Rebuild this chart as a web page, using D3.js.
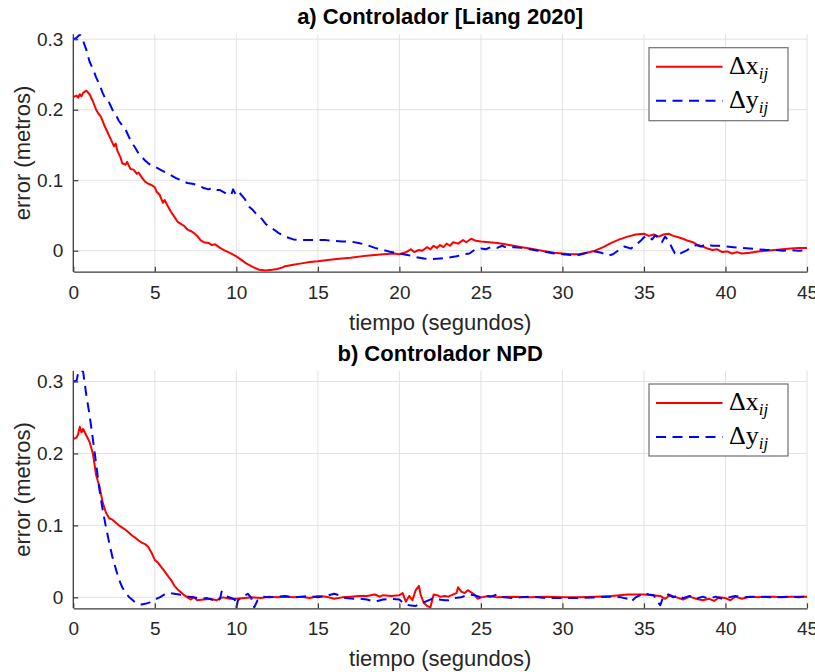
<!DOCTYPE html>
<html>
<head>
<meta charset="utf-8">
<script src="https://cdn.jsdelivr.net/npm/d3@7"></script>
<style>
  html, body { margin: 0; padding: 0; background: #ffffff; }
  svg { display: block; }
  text { font-family: "Liberation Sans", Arial, sans-serif; }
</style>
</head>
<body>
<svg id="chart" width="815" height="672"></svg>
<script>
// ---------------- DATA ----------------
const xTicks = [0, 5, 10, 15, 20, 25, 30, 35, 40, 45];
const yTicks = [0, 0.1, 0.2, 0.3];
const titleA = "a) Controlador [Liang 2020]";
const titleB = "b) Controlador NPD";
const xLabel = "tiempo (segundos)";
const yLabel = "error (metros)";
const seriesNames = ["x", "y"];

// Panel a) – Δx
const timeAx = [0,0.2,0.3,0.4,0.5,0.6,0.8,1.0,1.2,1.4,1.5,1.7,1.9,2.1,2.3,2.5,2.6,2.7,2.9,3.0,3.2,3.3,3.5,3.7,3.9,4.0,4.2,4.4,4.6,4.8,5.0,5.1,5.3,5.5,5.6,5.8,6.0,6.2,6.4,6.6,6.8,7.0,7.2,7.4,7.6,7.8,8.0,8.3,8.5,8.7,9.0,9.3,9.6,10.0,10.3,10.6,11.0,11.4,11.8,12.2,12.5,12.8,13.0,13.5,14.0,14.5,15.0,16.0,17.0,18.0,19.0,19.7,20.0,20.3,20.5,20.7,20.9,21.2,21.4,21.7,21.9,22.1,22.3,22.5,22.7,22.9,23.1,23.3,23.6,23.9,24.1,24.4,24.7,25.0,25.5,26.0,26.5,27.0,27.5,28.0,28.5,29.0,29.5,30.0,30.5,31.0,31.5,32.0,32.5,33.0,33.5,34.0,34.5,35.0,35.3,35.6,35.9,36.2,36.5,36.8,37.1,37.4,37.7,38.0,38.3,38.6,38.9,39.2,39.5,39.8,40.1,40.4,40.7,41.0,41.5,42.0,42.5,43.0,43.5,44.0,44.5,45.0];
const errAx  = [0.218,0.220,0.217,0.222,0.219,0.224,0.227,0.222,0.212,0.200,0.196,0.190,0.178,0.168,0.158,0.148,0.152,0.142,0.132,0.124,0.122,0.126,0.116,0.115,0.109,0.111,0.104,0.098,0.095,0.093,0.090,0.084,0.079,0.068,0.072,0.063,0.055,0.048,0.041,0.038,0.035,0.030,0.028,0.025,0.021,0.015,0.012,0.011,0.008,0.009,0.004,0.000,-0.003,-0.008,-0.013,-0.018,-0.023,-0.027,-0.028,-0.027,-0.026,-0.024,-0.022,-0.020,-0.018,-0.016,-0.015,-0.012,-0.010,-0.007,-0.005,-0.004,-0.005,-0.003,-0.001,0.002,-0.002,0.001,0.000,0.005,0.002,0.007,0.004,0.008,0.005,0.010,0.007,0.012,0.010,0.015,0.012,0.017,0.014,0.013,0.012,0.011,0.009,0.007,0.005,0.003,0.001,-0.001,-0.003,-0.004,-0.005,-0.005,-0.003,0.000,0.005,0.011,0.016,0.020,0.023,0.024,0.021,0.023,0.020,0.023,0.024,0.021,0.019,0.017,0.014,0.012,0.008,0.006,0.003,0.001,0.002,-0.002,-0.001,-0.004,-0.002,-0.004,-0.003,-0.001,0.000,0.001,0.002,0.003,0.004,0.004];

// Panel a) – Δy
const timeAy = [0,0.2,0.4,0.6,0.8,1.0,1.2,1.4,1.6,1.8,2.0,2.2,2.4,2.6,2.8,3.0,3.2,3.4,3.6,3.8,4.0,4.2,4.4,4.6,4.8,5.0,5.5,6.0,6.3,6.6,7.0,7.3,7.6,8.0,8.3,8.5,8.8,9.0,9.3,9.5,9.7,9.8,10.0,10.2,10.5,10.8,11.0,11.3,11.5,11.8,12.0,12.3,12.6,13.0,13.5,14.0,14.5,15.0,15.5,16.0,16.5,17.0,17.5,18.0,18.5,19.0,19.5,20.0,20.5,21.0,21.5,22.0,22.5,23.0,23.5,24.0,24.3,24.6,25.0,25.3,25.6,26.0,26.3,26.6,27.0,27.5,28.0,28.5,29.0,29.5,30.0,30.5,31.0,31.5,32.0,32.4,32.8,33.1,33.4,33.8,34.2,34.5,34.8,35.0,35.2,35.5,35.7,35.9,36.1,36.3,36.5,36.7,36.9,37.1,37.3,37.6,37.9,38.2,38.5,38.8,39.2,39.6,40.0,40.5,41.0,41.5,42.0,42.5,43.0,43.5,44.0,44.5,45.0];
const errAy  = [0.300,0.302,0.307,0.298,0.285,0.268,0.258,0.246,0.236,0.224,0.214,0.210,0.200,0.193,0.184,0.178,0.172,0.162,0.153,0.146,0.138,0.133,0.128,0.124,0.121,0.119,0.113,0.107,0.103,0.100,0.096,0.095,0.093,0.089,0.087,0.089,0.086,0.086,0.082,0.079,0.080,0.087,0.078,0.082,0.074,0.062,0.058,0.050,0.047,0.038,0.034,0.030,0.025,0.020,0.016,0.015,0.015,0.015,0.015,0.014,0.013,0.013,0.011,0.008,0.004,0.001,-0.002,-0.004,-0.006,-0.009,-0.011,-0.012,-0.011,-0.010,-0.008,-0.005,-0.004,0.001,0.003,0.002,0.005,0.004,0.007,0.004,0.005,0.004,0.002,0.000,-0.002,-0.004,-0.005,-0.006,-0.006,-0.003,-0.001,-0.003,-0.007,-0.005,0.000,0.006,0.003,0.008,0.014,0.019,0.021,0.016,0.022,0.018,0.012,0.020,0.014,0.005,-0.004,-0.007,-0.003,0.000,0.005,0.008,0.006,0.009,0.007,0.007,0.006,0.005,0.004,0.003,0.002,0.001,0.001,0.000,0.001,0.000,0.001];

// Panel b) – Δx
const timeBx = [0,0.2,0.3,0.4,0.5,0.6,0.8,1.0,1.2,1.4,1.5,1.6,1.8,2.0,2.2,2.4,2.6,2.8,3.0,3.2,3.4,3.6,3.8,4.0,4.2,4.4,4.6,4.8,5.0,5.2,5.4,5.6,5.8,6.0,6.2,6.4,6.6,6.8,7.0,7.2,7.4,7.6,8.0,8.4,8.8,9.0,9.2,9.6,10.0,10.5,11.0,11.5,12.0,12.5,13.0,13.5,14.0,14.5,15.0,15.5,16.0,16.5,17.0,17.5,18.0,18.5,18.8,19.0,19.5,20.0,20.2,20.4,20.6,20.8,21.0,21.2,21.3,21.5,21.7,21.9,22.1,22.3,22.5,22.8,23.0,23.2,23.5,23.6,23.8,24.0,24.2,24.4,24.6,24.8,25.0,25.5,26.0,27.0,28.0,29.0,30.0,31.0,32.0,33.0,34.0,35.0,35.5,36.0,36.3,36.6,37.0,37.4,37.8,38.2,38.6,39.0,39.3,39.6,40.0,40.3,40.6,41.0,41.5,42.0,42.5,43.0,43.5,44.0,44.5,45.0];
const errBx  = [0.220,0.222,0.227,0.237,0.229,0.234,0.225,0.216,0.200,0.170,0.162,0.155,0.132,0.118,0.110,0.108,0.104,0.100,0.097,0.094,0.090,0.086,0.083,0.079,0.076,0.074,0.070,0.062,0.052,0.048,0.042,0.036,0.030,0.024,0.016,0.011,0.007,0.003,0.000,-0.003,0.000,-0.004,-0.003,-0.002,-0.004,-0.001,0.000,-0.002,-0.002,-0.001,0.000,-0.001,0.001,0.000,0.001,0.000,0.001,-0.001,0.002,0.001,-0.002,0.000,0.001,0.002,0.002,0.004,0.001,0.003,0.002,0.003,0.006,-0.006,0.002,-0.004,0.010,0.016,0.004,-0.008,-0.012,-0.014,0.004,0.003,0.001,0.002,0.001,0.003,0.006,0.014,0.008,0.006,0.010,0.007,0.004,-0.002,0.000,0.002,0.000,0.001,0.000,0.001,0.000,0.000,0.001,0.002,0.004,0.004,0.003,0.002,-0.002,0.003,0.000,-0.003,0.001,-0.002,-0.004,-0.002,-0.005,0.000,-0.001,-0.004,0.001,-0.002,0.001,0.000,0.001,0.001,0.000,0.001,0.001,0.001];

// Panel b) – Δy
const timeBy = [0,0.2,0.3,0.4,0.6,0.8,1.0,1.2,1.4,1.6,1.8,2.0,2.2,2.4,2.6,2.8,3.0,3.2,3.4,3.6,3.8,4.0,4.2,4.4,4.7,5.0,5.3,5.6,5.9,6.2,6.5,6.8,7.1,7.4,7.8,8.2,8.6,8.8,9.0,9.1,9.3,9.6,9.9,10.0,10.1,10.4,10.7,10.9,11.1,11.3,11.6,12.0,12.5,13.0,13.5,14.0,14.5,15.0,15.5,16.0,16.3,16.7,17.2,17.6,18.0,18.5,19.0,19.5,20.0,20.3,20.6,21.0,21.3,21.6,22.0,22.4,22.8,23.0,23.3,23.8,24.0,24.3,24.6,25.0,25.3,25.6,26.0,26.4,27.0,27.5,28.0,28.5,29.0,30.0,31.0,32.0,33.0,33.6,34.0,34.2,34.5,35.0,35.3,35.6,35.8,36.0,36.2,36.5,36.8,37.1,37.4,37.8,38.2,38.6,39.0,39.4,39.8,40.2,40.6,41.0,42.0,43.0,44.0,44.5,45.0];
const errBy  = [0.300,0.301,0.312,0.316,0.314,0.281,0.253,0.220,0.186,0.150,0.122,0.098,0.076,0.056,0.040,0.025,0.014,0.007,0.001,-0.003,-0.007,-0.009,-0.010,-0.009,-0.007,-0.003,0.000,0.004,0.006,0.005,0.004,0.002,0.001,0.000,-0.002,-0.001,-0.004,-0.006,-0.002,0.008,0.002,0.000,-0.003,-0.014,-0.004,0.001,0.005,0.000,-0.014,-0.004,0.001,0.000,0.001,0.002,0.000,0.001,0.002,0.000,0.002,0.005,0.003,-0.001,-0.002,-0.002,-0.003,-0.006,-0.003,-0.002,-0.003,-0.009,-0.011,-0.012,-0.008,-0.006,-0.002,-0.003,-0.004,-0.004,-0.001,0.000,0.002,0.004,0.003,0.000,0.002,0.001,0.004,0.000,-0.001,0.000,0.001,0.000,-0.001,-0.001,-0.001,0.000,0.001,0.000,-0.002,-0.006,0.000,0.006,0.004,0.003,-0.005,-0.011,0.002,0.004,0.000,0.003,-0.001,0.002,-0.002,0.001,-0.002,0.001,-0.002,0.000,0.002,0.000,0.001,0.000,0.001,0.000,0.002];

// ---------------- DRAWING ----------------
const svg = d3.select("#chart");
const axisColor = "#3a3a3a";
const textColor = "#262626";
const gridColor = "#e2e2e2";
const colors = { x: "#ff0000", y: "#0000ff" };

const panels = [
  { id: "a", title: titleA, titleY: 24, left: 73.3, right: 807, top: 34.3, bottom: 271.7,
    yDomain: [-0.0298, 0.307], xLabelY: 329.5,
    legend: { x: 649, y: 47.7, w: 139, h: 73 },
    series: [ { key: "x", t: timeAx, v: errAx }, { key: "y", t: timeAy, v: errAy } ] },
  { id: "b", title: titleB, titleY: 361, left: 73.3, right: 807, top: 370.7, bottom: 608.3,
    yDomain: [-0.0152, 0.315], xLabelY: 666,
    legend: { x: 649, y: 384, w: 139, h: 72 },
    series: [ { key: "x", t: timeBx, v: errBx }, { key: "y", t: timeBy, v: errBy } ] }
];

panels.forEach(p => {
  const x = d3.scaleLinear().domain([0, 45]).range([p.left, p.right]);
  const y = d3.scaleLinear().domain(p.yDomain).range([p.bottom, p.top]);
  const g = svg.append("g");

  // grid
  g.append("g").selectAll("line").data(xTicks.slice(1)).join("line")
    .attr("x1", d => x(d)).attr("x2", d => x(d))
    .attr("y1", p.top).attr("y2", p.bottom)
    .attr("stroke", gridColor).attr("stroke-width", 1);
  g.append("g").selectAll("line").data(yTicks).join("line")
    .attr("x1", p.left).attr("x2", p.right)
    .attr("y1", d => y(d)).attr("y2", d => y(d))
    .attr("stroke", gridColor).attr("stroke-width", 1);

  // clip
  const clipId = "clip-" + p.id;
  svg.append("clipPath").attr("id", clipId).append("rect")
    .attr("x", p.left).attr("y", p.top)
    .attr("width", p.right - p.left + 2).attr("height", p.bottom - p.top);

  // lines
  const lineGen = d3.line().x(d => x(d[0])).y(d => y(d[1]));
  const lg = g.append("g").attr("clip-path", `url(#${clipId})`);
  p.series.forEach(s => {
    const pts = s.t.map((t, i) => [t, s.v[i]]);
    lg.append("path").datum(pts)
      .attr("d", lineGen)
      .attr("fill", "none")
      .attr("stroke", colors[s.key])
      .attr("stroke-width", 2)
      .attr("stroke-linejoin", "round")
      .attr("stroke-dasharray", s.key === "y" ? "10,6.5" : null);
  });

  // axes
  const xAxis = d3.axisBottom(x).tickValues(xTicks).tickFormat(d3.format("d"))
    .tickSizeInner(-5).tickSizeOuter(0).tickPadding(13.4);
  const gx = g.append("g").attr("transform", `translate(0,${p.bottom})`).call(xAxis);
  const yAxis = d3.axisLeft(y).tickValues(yTicks).tickFormat(d => d === 0 ? "0" : d3.format(".1f")(d))
    .tickSizeInner(-5).tickSizeOuter(0).tickPadding(10);
  const gy = g.append("g").attr("transform", `translate(${p.left},0)`).call(yAxis);
  [gx, gy].forEach(ga => {
    ga.select(".domain").attr("stroke", axisColor).attr("stroke-width", 1.3);
    ga.selectAll(".tick line").attr("stroke", axisColor).attr("stroke-width", 1.2);
    ga.selectAll(".tick text").attr("fill", textColor)
      .style("font-family", "'Liberation Sans', Arial, sans-serif").style("font-size", "19px");
  });
  gy.select(".domain").attr("d", `M0,${p.bottom}V${p.top}`);

  // title
  g.append("text").attr("x", (p.left + p.right) / 2).attr("y", p.titleY)
    .attr("text-anchor", "middle").attr("font-weight", "bold")
    .attr("font-size", 22).attr("fill", "#000").text(p.title);

  // x label
  g.append("text").attr("x", (p.left + p.right) / 2).attr("y", p.xLabelY)
    .attr("text-anchor", "middle").attr("font-size", 22).attr("fill", textColor).text(xLabel);

  // y label
  g.append("text")
    .attr("transform", `translate(29.5,${(p.top + p.bottom) / 2}) rotate(-90)`)
    .attr("text-anchor", "middle").attr("font-size", 22).attr("fill", textColor).text(yLabel);

  // legend
  const L = p.legend;
  const leg = g.append("g");
  leg.append("rect").attr("x", L.x).attr("y", L.y).attr("width", L.w).attr("height", L.h)
    .attr("fill", "#fff").attr("stroke", "#707070").attr("stroke-width", 1.2);
  seriesNames.forEach((name, i) => {
    const cy = L.y + 19 + i * 34;
    leg.append("line").attr("x1", L.x + 7).attr("x2", L.x + 73.5)
      .attr("y1", cy).attr("y2", cy)
      .attr("stroke", colors[name]).attr("stroke-width", 2)
      .attr("stroke-dasharray", name === "y" ? "10,6.5" : null);
    const t = leg.append("text").attr("x", L.x + 80).attr("y", cy + 7)
      .style("font-family", "'Liberation Serif', 'Times New Roman', serif")
      .attr("font-size", 26).attr("fill", "#000");
    t.append("tspan").text("\u0394" + name);
    t.append("tspan").attr("font-style", "italic").attr("font-size", 17).attr("dy", 5).text("ij");
  });
});
</script>
</body>
</html>
